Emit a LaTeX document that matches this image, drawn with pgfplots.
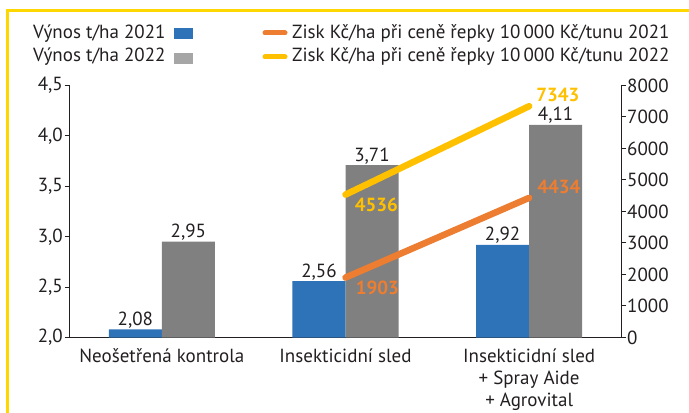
\documentclass[border=0pt]{standalone}
\usepackage{pgfplots}
\pgfplotsset{compat=1.18}
\usepackage{fontspec}
\setmainfont{PT Sans}
\definecolor{cblue}{HTML}{2E72B8}
\definecolor{cgray}{HTML}{808080}
\definecolor{clgray}{HTML}{A6A6A6}
\definecolor{corange}{HTML}{ED7D31}
\definecolor{cyellow}{HTML}{FFC000}
\definecolor{cborder}{HTML}{FFD700}
\definecolor{ctext}{HTML}{231F20}
\newcommand{\fs}{\fontsize{19bp}{22bp}\selectfont}
\begin{document}
\begin{tikzpicture}[font=\fs,text=ctext]
\useasboundingbox (0bp,0bp) rectangle (689bp,413bp);
\draw[cborder, line width=3bp] (7.5bp,0bp) -- (7.5bp,402bp) -- (689bp,402bp);
% legend
\node[anchor=base west, inner sep=0] at (33bp,374bp) {Výnos t/ha 2021};
\fill[cblue] (174bp,374bp) rectangle (193bp,385bp);
\node[anchor=base west, inner sep=0] at (33bp,351bp) {Výnos t/ha 2022};
\fill[clgray] (174bp,349bp) rectangle (193bp,360bp);
\draw[corange, line width=5bp, line cap=round] (265bp,380bp) -- (285bp,380bp);
\node[anchor=base west, inner sep=0] at (292bp,374bp) {Zisk Kč/ha při ceně řepky 10\,000 Kč/tunu 2021};
\draw[cyellow, line width=5bp, line cap=round] (265bp,356bp) -- (285bp,356bp);
\node[anchor=base west, inner sep=0] at (292bp,351bp) {Zisk Kč/ha při ceně řepky 10\,000 Kč/tunu 2022};

\begin{axis}[
  at={(161.83bp,75.5bp)}, anchor=origin,
  width=551bp, height=252bp, scale only axis,
  xmin=-0.5, xmax=2.5, ymin=2, ymax=4.5,
  axis x line*=bottom, axis y line*=left,
  axis line style={ctext, line width=1bp},
  every tick/.style={ctext, line width=1bp},
  tick align=outside, major tick length=5bp,
  ytick={2,2.5,3,3.5,4,4.5},
  yticklabel style={/pgf/number format/.cd, use comma, fixed, fixed zerofill, precision=1, assume math mode=true, /tikz/.cd, inner sep=2bp},
  xtick={0,1,2},
  xticklabels={\strut Neošetřená kontrola, \strut Insekticidní sled, {\strut Insekticidní sled\\+ Spray Aide\\+ Agrovital}},
  x tick style={draw=none},
  xticklabel style={align=center, anchor=north, inner sep=0, yshift=-4bp},
  ybar=0bp, bar width=53bp,
  nodes near coords={\pgfmathprintnumber[fixed, fixed zerofill, precision=2, use comma, assume math mode=true]{\pgfplotspointmeta}},
  every node near coord/.append style={anchor=base, inner sep=0, yshift=4bp, text=ctext},
]
\addplot[fill=cblue, draw=none] coordinates {(0,2.08) (1,2.56) (2,2.92)};
\addplot[fill=cgray, draw=none] coordinates {(0,2.95) (1,3.71) (2,4.11)};
\end{axis}

\begin{axis}[
  at={(161.83bp,75.5bp)}, anchor=origin,
  width=551bp, height=252bp, scale only axis,
  xmin=-0.5, xmax=2.5, ymin=0, ymax=8000,
  axis x line=none, axis y line*=right,
  axis line style={ctext, line width=1bp},
  every tick/.style={ctext, line width=1bp},
  tick align=outside, major tick length=5bp,
  ytick={0,1000,...,8000}, scaled y ticks=false,
  yticklabel style={/pgf/number format/.cd, fixed, 1000 sep={}, assume math mode=true, /tikz/.cd, inner sep=1bp},
  clip=false,
]
\addplot[corange, line width=6.5bp, line cap=round, mark=none,
  nodes near coords, point meta=explicit symbolic,
  visualization depends on={\thisrow{dx} \as \dx},
  visualization depends on={\thisrow{dy} \as \dy},
  every node near coord/.append style={anchor=west, inner sep=0, xshift=\dx bp, yshift=\dy bp, text=corange, font=\fs\bfseries}]
  table[meta=lab] {
x y lab dx dy
1 1903 1903 7 -10
2 4434 4434 5 11
};
\addplot[cyellow, line width=6.5bp, line cap=round, mark=none,
  nodes near coords, point meta=explicit symbolic,
  visualization depends on={\thisrow{dx} \as \dx},
  visualization depends on={\thisrow{dy} \as \dy},
  every node near coord/.append style={anchor=west, inner sep=0, xshift=\dx bp, yshift=\dy bp, text=cyellow, font=\fs\bfseries}]
  table[meta=lab] {
x y lab dx dy
1 4536 4536 6 -10.5
2 7343 7343 4 11.5
};
\end{axis}
\end{tikzpicture}
\end{document}
